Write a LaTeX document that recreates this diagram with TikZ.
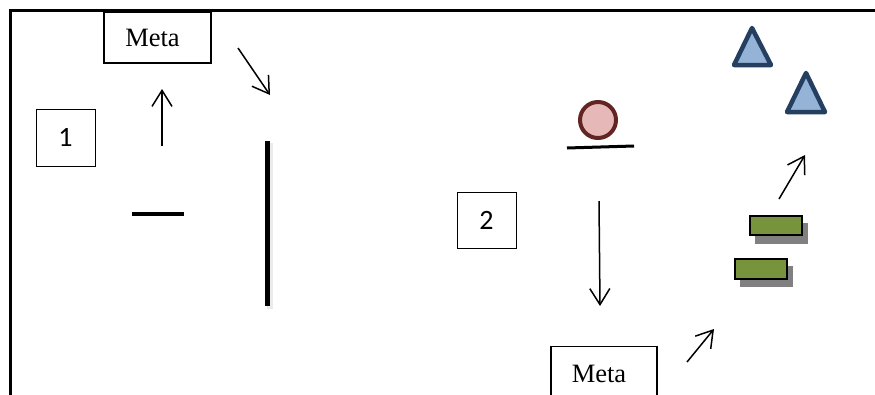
\documentclass[tikz,border=0pt]{standalone}
\usepackage{fontspec}
\setmainfont{Liberation Serif}
\newfontfamily\calib{Carlito}
\usetikzlibrary{arrows.meta}
\definecolor{pinkfill}{HTML}{E6B9B8}
\definecolor{darkred}{HTML}{632523}
\definecolor{trifill}{HTML}{95B3D7}
\definecolor{tridraw}{HTML}{243F60}
\definecolor{greenfill}{HTML}{77933C}
\definecolor{shadowgray}{HTML}{808080}
\tikzset{
  metabox/.style={draw, line width=1.3, minimum width=107, minimum height=51, inner sep=0, font=\fontsize{26.5}{30}\selectfont},
  numbox/.style={draw, line width=1, minimum width=59, minimum height=57, inner sep=0, font=\calib\fontsize{28}{30}\selectfont},
  arr/.style={line width=1.5, -{Straight Barb[length=16, width=20, line width=1.5]}},
  frameline/.style={line width=3.5},
  bar/.style={line width=5},
  tri/.style={draw=tridraw, fill=trifill, line width=4.5, line join=round},
  greenrect/.style={draw=black, fill=greenfill, line width=1.8},
  shadowrect/.style={fill=shadowgray, draw=none}
}
\begin{document}
\begin{tikzpicture}[x=1pt, y=-1pt]
\useasboundingbox (0,0) rectangle (875,394);
\fill[white] (0,0) rectangle (875,394);
% frame
\draw[frameline] (10.5,400) -- (10.5,10.5) -- (875,10.5);
% boxes
\node[metabox, fill=white] (meta1) at (157.5,37.5) {Meta\kern10pt\relax};
\node[numbox] (n1) at (65.5,137.5) {1};
\node[numbox, minimum height=56] (n2) at (486.5,220) {2};
\node[metabox, minimum width=106, minimum height=54, anchor=north] (meta2) at (604,346) {Meta\kern10pt\relax};
% arrows
\coordinate (a1s) at (162,146); \coordinate (a1e) at (162,89);
\draw[arr] (a1s) -- (a1e);
\coordinate (a2s) at (238,48); \coordinate (a2e) at (270,95);
\draw[arr] (a2s) -- (a2e);
\coordinate (a3s) at (599,201); \coordinate (a3e) at (600,306);
\draw[arr] (a3s) -- (a3e);
\coordinate (a4s) at (779,199); \coordinate (a4e) at (805,155);
\draw[arr] (a4s) -- (a4e);
\coordinate (a5s) at (687,362); \coordinate (a5e) at (714,329);
\draw[arr] (a5s) -- (a5e);
% bars
\draw[line width=6, black!8] (269.5,143) -- (269.5,309);
\draw[bar] (267,141) -- (267,306);
\draw[line width=4] (132,214) -- (184,214);
% ball on line
\draw[line width=3] (567,148) -- (634,146);
\draw[draw=darkred, fill=pinkfill, line width=4] (598,120) circle (18);
% triangles
\draw[tri] (752,28) -- (734,65) -- (771,65) -- cycle;
\draw[tri] (806,73) -- (787,112) -- (825,112) -- cycle;
% green rects with shadows
\fill[shadowrect] (755,223) rectangle (808,244);
\draw[greenrect] (750,216) rectangle (802,235);
\fill[shadowrect] (740,266) rectangle (793,287);
\draw[greenrect] (735,259) rectangle (787,279);
\end{tikzpicture}
\end{document}
